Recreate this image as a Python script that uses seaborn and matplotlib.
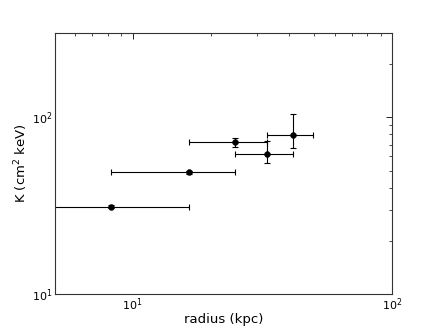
import pandas as pd
import matplotlib
matplotlib.use("Agg")
import matplotlib.pyplot as plt
import seaborn as sns

# entropy profile values
radius = [8.25, 16.5, 24.75, 33.0, 41.25]
radius_err = [8.25, 8.25, 8.25, 8.25, 8.25]
entropy = [31.2, 48.8, 72.0, 62.1, 78.9]
entropy_err_lo = [0.6, 1.0, 4.2, 7.3, 11.5]
entropy_err_hi = [0.6, 1.0, 4.5, 10.9, 25.5]

df = pd.DataFrame({"radius": radius, "K": entropy})

sns.set_style("white")
plt.rcParams["font.family"] = ["DejaVu Sans"]
plt.rcParams["xtick.direction"] = "in"
plt.rcParams["ytick.direction"] = "in"
plt.rcParams["xtick.top"] = True
plt.rcParams["ytick.right"] = True
plt.rcParams["text.color"] = "black"
plt.rcParams["axes.labelcolor"] = "black"
plt.rcParams["xtick.color"] = "black"
plt.rcParams["ytick.color"] = "black"

fig = plt.figure(figsize=(4.36, 3.27), dpi=100)
ax = fig.add_axes([0.125, 0.1, 0.775, 0.8])

ax.errorbar(radius, entropy,
            xerr=radius_err,
            yerr=[entropy_err_lo, entropy_err_hi],
            fmt="none", ecolor="black", elinewidth=0.8,
            capsize=2, capthick=0.8)

sns.scatterplot(data=df, x="radius", y="K", color="black",
                s=18, edgecolor="black", ax=ax, zorder=3)

ax.set_xscale("log")
ax.set_yscale("log")
ax.set_xlim(5, 100)
ax.set_ylim(10, 300)

ax.set_xlabel("radius (kpc)", fontsize=9.5, labelpad=0)
ax.set_ylabel("K (cm$^2$ keV)", fontsize=9.5, labelpad=1.5)
ax.tick_params(which="major", length=4, width=0.6, labelsize=8, pad=1.5)
ax.tick_params(which="minor", length=2, width=0.5)
for s in ax.spines.values():
    s.set_linewidth(0.8)
    s.set_color("#333333")

fig.savefig("out.png", dpi=100)
